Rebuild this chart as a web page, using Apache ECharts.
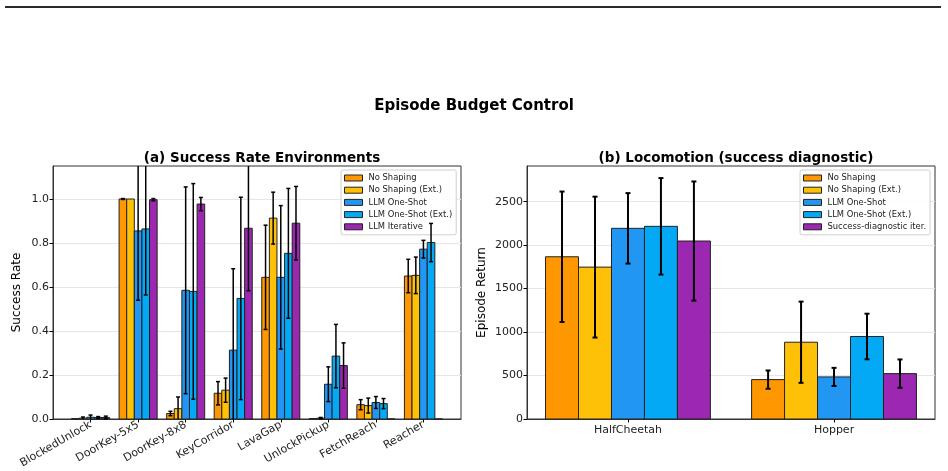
<!DOCTYPE html>
<html>
<head>
<meta charset="utf-8">
<script src="https://cdn.jsdelivr.net/npm/echarts@6/dist/echarts.min.js"></script>
<style>
  html, body { margin: 0; padding: 0; background: #fff; }
  #chart { width: 948px; height: 471px; }
</style>
</head>
<body>
<div id="chart"></div>
<script>
// categories
const envCats = ['BlockedUnlock', 'DoorKey-5x5', 'DoorKey-8x8', 'KeyCorridor', 'LavaGap', 'UnlockPickup', 'FetchReach', 'Reacher'];
const locoCats = ['HalfCheetah', 'Hopper'];
const envNames = ['No Shaping', 'No Shaping (Ext.)', 'LLM One-Shot', 'LLM One-Shot (Ext.)', 'LLM Iterative'];
const locoNames = ['No Shaping', 'No Shaping (Ext.)', 'LLM One-Shot', 'LLM One-Shot (Ext.)', 'Success-diagnostic iter.'];

// (a) success rate, mean and std
const envNoShaping       = [0.002, 1.0,   0.025, 0.117, 0.644, 0.002, 0.065, 0.650];
const envNoShapingErr    = [0.0,   0.002, 0.010, 0.053, 0.237, 0.0,   0.023, 0.076];
const envNoShapingExt    = [0.004, 1.0,   0.047, 0.131, 0.913, 0.004, 0.061, 0.653];
const envNoShapingExtErr = [0.005, 0.0,   0.053, 0.055, 0.118, 0.003, 0.034, 0.083];
const envOneShot         = [0.008, 0.855, 0.585, 0.313, 0.644, 0.158, 0.075, 0.772];
const envOneShotErr      = [0.010, 0.315, 0.470, 0.370, 0.326, 0.079, 0.027, 0.040];
const envOneShotExt      = [0.007, 0.864, 0.580, 0.548, 0.753, 0.286, 0.070, 0.802];
const envOneShotExtErr   = [0.004, 0.300, 0.490, 0.460, 0.295, 0.144, 0.023, 0.087];
const envIterative       = [0.007, 0.997, 0.977, 0.867, 0.890, 0.243, 0.0,   0.0];
const envIterativeErr    = [0.006, 0.005, 0.030, 0.284, 0.167, 0.103, 0.0,   0.0];

// (b) locomotion episode return, mean and std
const locoNoShaping       = [1866, 453];
const locoNoShapingErr    = [750, 105];
const locoNoShapingExt    = [1747, 883];
const locoNoShapingExtErr = [810, 467];
const locoOneShot         = [2193, 484];
const locoOneShotErr      = [405, 104];
const locoOneShotExt      = [2216, 949];
const locoOneShotExtErr   = [555, 262];
const locoIterative       = [2047, 522];
const locoIterativeErr    = [685, 163];

// tick labels
const envTicks = [0, 0.2, 0.4, 0.6, 0.8, 1.0];
const locoTicks = [0, 500, 1000, 1500, 2000, 2500];

const colors = ['#FF9800', '#FFC107', '#2196F3', '#03A9F4', '#9C27B0'];
const FONT = 'DejaVu Sans';
const BW = 0.16;
const ENV_MAX = 1.15;
const LOCO_MAX = 2910;

function barSeries(name, values, k, axis) {
  return {
    type: 'custom',
    name: name,
    xAxisIndex: axis,
    yAxisIndex: axis,
    z: 2,
    itemStyle: { color: colors[k], borderColor: '#222', borderWidth: 1 },
    data: values.map((v, i) => [i, v]),
    renderItem: function (params, api) {
      const x = api.value(0) + (k - 2) * BW;
      const a = api.coord([x - BW / 2, 0]);
      const b = api.coord([x + BW / 2, api.value(1)]);
      return {
        type: 'rect',
        shape: { x: a[0], y: b[1], width: b[0] - a[0], height: a[1] - b[1] },
        style: { fill: colors[k], stroke: '#222', lineWidth: 1 }
      };
    }
  };
}

function errSeries(values, errs, k, axis, ymax, lw, cap) {
  return {
    type: 'custom',
    name: 'err' + axis + '_' + k,
    xAxisIndex: axis,
    yAxisIndex: axis,
    z: 5,
    silent: true,
    data: values.map((v, i) => [i, v, errs[i]]),
    renderItem: function (params, api) {
      const e = api.value(2);
      if (!e) return null;
      const x = api.value(0) + (k - 2) * BW;
      const v = api.value(1);
      const hi = Math.min(v + e, ymax);
      const lo = Math.max(v - e, 0);
      const pHi = api.coord([x, hi]);
      const pLo = api.coord([x, lo]);
      const st = { stroke: '#000', lineWidth: lw };
      const kids = [{ type: 'line', shape: { x1: pHi[0], y1: pHi[1], x2: pLo[0], y2: pLo[1] }, style: st }];
      if (v + e <= ymax) kids.push({ type: 'line', shape: { x1: pHi[0] - cap, y1: pHi[1], x2: pHi[0] + cap, y2: pHi[1] }, style: st });
      if (v - e >= 0) kids.push({ type: 'line', shape: { x1: pLo[0] - cap, y1: pLo[1], x2: pLo[0] + cap, y2: pLo[1] }, style: st });
      return { type: 'group', children: kids };
    }
  };
}

const envVals = [envNoShaping, envNoShapingExt, envOneShot, envOneShotExt, envIterative];
const envErrs = [envNoShapingErr, envNoShapingExtErr, envOneShotErr, envOneShotExtErr, envIterativeErr];
const locoVals = [locoNoShaping, locoNoShapingExt, locoOneShot, locoOneShotExt, locoIterative];
const locoErrs = [locoNoShapingErr, locoNoShapingExtErr, locoOneShotErr, locoOneShotExtErr, locoIterativeErr];

const series = [];
envVals.forEach((vals, k) => series.push(barSeries(envNames[k], vals, k, 0)));
locoVals.forEach((vals, k) => series.push(barSeries(locoNames[k], vals, k, 1)));
envVals.forEach((vals, k) => series.push(errSeries(vals, envErrs[k], k, 0, ENV_MAX, 1.5, 2)));
locoVals.forEach((vals, k) => series.push(errSeries(vals, locoErrs[k], k, 1, LOCO_MAX, 2, 2.5)));

const tickLabel = { fontFamily: FONT, fontSize: 11, color: '#222' };

function legendFor(names, left) {
  return {
    orient: 'vertical',
    left: left,
    top: 170,
    padding: [3, 4, 3, 3],
    itemGap: 2.2,
    itemWidth: 18,
    itemHeight: 6,
    icon: 'rect',
    backgroundColor: 'rgba(255,255,255,0.85)',
    borderColor: '#d0d0d0',
    borderWidth: 1,
    borderRadius: 2,
    selectedMode: false,
    textStyle: { fontFamily: FONT, fontSize: 8.4, color: '#222', lineHeight: 10, padding: [0, 0, 0, 1] },
    data: names.map((n, k) => ({ name: n, itemStyle: { color: colors[k], borderColor: '#222', borderWidth: 1 } }))
  };
}

const chart = echarts.init(document.getElementById('chart'), null, { renderer: 'canvas' });

const option = {
  animation: false,
  backgroundColor: '#fff',
  title: [
    { text: 'Episode Budget Control', left: 'center', top: 94, textStyle: { fontFamily: FONT, fontSize: 15, fontWeight: 'bold', color: '#000' } },
    { text: '(a) Success Rate Environments', left: 257, top: 146, textAlign: 'center', textStyle: { fontFamily: FONT, fontSize: 13.5, fontWeight: 'bold', color: '#000' } },
    { text: '(b) Locomotion (success diagnostic)', left: 731, top: 146, textAlign: 'center', textStyle: { fontFamily: FONT, fontSize: 13.5, fontWeight: 'bold', color: '#000' } }
  ],
  legend: [legendFor(envNames, 341), legendFor(locoNames, 800)],
  graphic: [
    { type: 'line', shape: { x1: 5, y1: 7, x2: 941, y2: 7 }, style: { stroke: '#2b2b2b', lineWidth: 2 } }
  ],
  grid: [
    { left: 53, top: 166, width: 408, height: 253, show: true, borderColor: '#333', borderWidth: 1, backgroundColor: 'transparent' },
    { left: 527, top: 166, width: 408, height: 253, show: true, borderColor: '#333', borderWidth: 1, backgroundColor: 'transparent' }
  ],
  xAxis: [
    {
      type: 'value', gridIndex: 0, min: -0.79, max: 7.79,
      axisLine: { show: true, onZero: false, lineStyle: { color: '#333', width: 1 } },
      axisTick: { show: true, inside: false, length: 3.5, lineStyle: { color: '#000' }, customValues: envCats.map((c, i) => i) },
      axisLabel: Object.assign({}, tickLabel, { rotate: 30, margin: 5, customValues: envCats.map((c, i) => i), formatter: v => envCats[v] }),
      splitLine: { show: false }
    },
    {
      type: 'value', gridIndex: 1, min: -0.49, max: 1.49,
      axisLine: { show: true, onZero: false, lineStyle: { color: '#333', width: 1 } },
      axisTick: { show: true, inside: false, length: 3.5, lineStyle: { color: '#000' }, customValues: locoCats.map((c, i) => i) },
      axisLabel: Object.assign({}, tickLabel, { margin: 6, customValues: locoCats.map((c, i) => i), formatter: v => locoCats[v] }),
      splitLine: { show: false }
    }
  ],
  yAxis: [
    {
      type: 'value', gridIndex: 0, min: 0, max: ENV_MAX, interval: 0.2,
      name: 'Success Rate', nameLocation: 'middle', nameGap: 30,
      nameTextStyle: { fontFamily: FONT, fontSize: 12, color: '#000' },
      axisLine: { show: true, onZero: false, lineStyle: { color: '#333', width: 1 } },
      axisTick: { show: true, inside: false, length: 3.5, lineStyle: { color: '#000' }, customValues: envTicks },
      axisLabel: Object.assign({}, tickLabel, { margin: 4, customValues: envTicks, formatter: v => v.toFixed(1) }),
      splitLine: { show: true, lineStyle: { color: '#e6e6e6', width: 1 } }
    },
    {
      type: 'value', gridIndex: 1, min: 0, max: LOCO_MAX, interval: 500,
      name: 'Episode Return', nameLocation: 'middle', nameGap: 39,
      nameTextStyle: { fontFamily: FONT, fontSize: 12, color: '#000' },
      axisLine: { show: true, onZero: false, lineStyle: { color: '#333', width: 1 } },
      axisTick: { show: true, inside: false, length: 3.5, lineStyle: { color: '#000' }, customValues: locoTicks },
      axisLabel: Object.assign({}, tickLabel, { margin: 4, customValues: locoTicks, formatter: v => String(v) }),
      splitLine: { show: true, lineStyle: { color: '#e6e6e6', width: 1 } }
    }
  ],
  series: series
};

chart.setOption(option);
window.addEventListener('resize', function () { chart.resize(); });
</script>
</body>
</html>
